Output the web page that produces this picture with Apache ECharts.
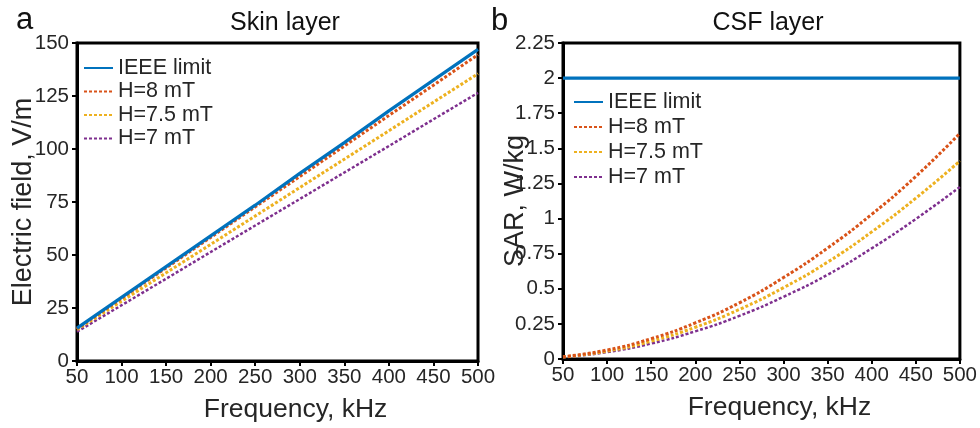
<!DOCTYPE html>
<html>
<head>
<meta charset="utf-8">
<script src="https://cdn.jsdelivr.net/npm/echarts@6/dist/echarts.min.js"></script>
<style>
  html, body { margin: 0; padding: 0; background: #fff; }
  #chart { width: 980px; height: 428px; }
</style>
</head>
<body>
<div id="chart"></div>
<script>
// Frequency sweep, kHz
var freqs = [50, 100, 150, 200, 250, 300, 350, 400, 450, 500];

// Skin layer: electric field, V/m
var skinIeee = [15.5, 30.0, 44.5, 59.0, 73.5, 88.5, 103.0, 118.0, 132.5, 147.0];
var skinH8   = [15.2, 29.6, 43.9, 58.3, 72.7, 87.0, 101.4, 115.8, 130.1, 144.5];
var skinH75  = [14.8, 28.2, 41.6, 55.0, 68.4, 81.8, 95.2, 108.6, 122.1, 135.5];
var skinH7   = [13.8, 26.3, 38.8, 51.4, 63.9, 76.4, 88.9, 101.4, 114.0, 126.5];

// CSF layer: SAR, W/kg
var csfIeee = [2, 2, 2, 2, 2, 2, 2, 2, 2, 2];
var csfH8   = [0.016, 0.064, 0.145, 0.257, 0.40, 0.58, 0.79, 1.03, 1.30, 1.607];
var csfH75  = [0.014, 0.056, 0.127, 0.226, 0.353, 0.508, 0.69, 0.905, 1.145, 1.41];
var csfH7   = [0.012, 0.049, 0.110, 0.197, 0.307, 0.443, 0.60, 0.788, 0.997, 1.225];

var seriesNames = ['IEEE limit', 'H=8 mT', 'H=7.5 mT', 'H=7 mT'];
var seriesColors = ['#0072BD', '#D95319', '#EDB120', '#7E2F8E'];

var FONT = 'Liberation Sans, Arial, Helvetica, sans-serif';
var TXT = '#262626';

function pairs(xs, ys) {
  return xs.map(function (x, i) { return [x, ys[i]]; });
}

function makeSeries(gridIdx, sets, smooth) {
  return sets.map(function (vals, i) {
    var solid = i === 0;
    return {
      name: seriesNames[i],
      type: 'line',
      xAxisIndex: gridIdx,
      yAxisIndex: gridIdx,
      data: pairs(freqs, vals),
      symbol: 'none',
      smooth: smooth && !solid,
      z: 10 - i,
      lineStyle: {
        color: seriesColors[i],
        width: solid ? 3.2 : (i === 3 ? 2.5 : 3),
        type: solid ? 'solid' : [3, 2]
      },
      itemStyle: { color: seriesColors[i] }
    };
  });
}

function xAxisFor(gridIdx) {
  return {
    type: 'value', gridIndex: gridIdx, min: 50, max: 500, interval: 50,
    name: 'Frequency, kHz', nameLocation: 'middle', nameGap: 35,
    nameMoveOverlap: false,
    // title sits a little right of the axis centre
    nameTextStyle: { fontFamily: FONT, fontSize: 26.5, color: TXT, padding: [0, 0, 0, 36] },
    axisLine: { show: true, lineStyle: { color: '#000', width: 3 } },
    axisTick: { show: true, length: 5, inside: false, lineStyle: { color: '#000', width: 2 } },
    axisLabel: { fontFamily: FONT, fontSize: 20.5, color: TXT, margin: 6 },
    splitLine: { show: false }
  };
}

function yAxisFor(gridIdx, min, max, interval, name, gap) {
  return {
    type: 'value', gridIndex: gridIdx, min: min, max: max, interval: interval,
    name: name, nameLocation: 'middle', nameGap: gap,
    nameMoveOverlap: false,
    nameTextStyle: { fontFamily: FONT, fontSize: 27, color: TXT },
    axisLine: { show: true, lineStyle: { color: '#000', width: 3 } },
    axisTick: { show: true, length: 5, inside: false, lineStyle: { color: '#000', width: 2 } },
    axisLabel: { fontFamily: FONT, fontSize: 20.5, color: TXT, margin: 8 },
    splitLine: { show: false }
  };
}

function legendFor(left, top, gap) {
  return {
    orient: 'vertical', left: left, top: top, padding: 0,
    itemWidth: 29, itemHeight: 14, itemGap: gap,
    data: seriesNames.map(function (n) { return { name: n }; }),
    itemStyle: { opacity: 0 },
    textStyle: { fontFamily: FONT, fontSize: 21.5, color: TXT, lineHeight: 22 },
    selectedMode: false
  };
}

var chart = echarts.init(document.getElementById('chart'), null, { renderer: 'canvas' });

var series = makeSeries(0, [skinIeee, skinH8, skinH75, skinH7], false)
  .concat(makeSeries(1, [csfIeee, csfH8, csfH75, csfH7], true));

chart.setOption({
  backgroundColor: '#fff',
  animation: false,
  title: [
    { text: 'Skin layer', left: 280, top: 6, textAlign: 'center',
      textStyle: { fontFamily: FONT, fontSize: 25, fontWeight: 'normal', color: '#111' } },
    { text: 'CSF layer', left: 763, top: 6, textAlign: 'center',
      textStyle: { fontFamily: FONT, fontSize: 25, fontWeight: 'normal', color: '#111' } },
    { text: 'a', left: 11, top: 0,
      textStyle: { fontFamily: FONT, fontSize: 31, fontWeight: 'normal', color: '#111' } },
    { text: 'b', left: 486, top: 1,
      textStyle: { fontFamily: FONT, fontSize: 31, fontWeight: 'normal', color: '#111' } }
  ],
  legend: [
    legendFor(83, 57, 1.5),
    legendFor(573, 91, 3)
  ],
  grid: [
    { left: 77, right: 502, top: 43, bottom: 67, show: true, borderColor: '#000', borderWidth: 3, backgroundColor: 'transparent' },
    { left: 563, right: 17, top: 43, bottom: 69, show: true, borderColor: '#000', borderWidth: 3, backgroundColor: 'transparent' }
  ],
  xAxis: [xAxisFor(0), xAxisFor(1)],
  yAxis: [
    yAxisFor(0, 0, 150, 25, 'Electric field, V/m', 40),
    yAxisFor(1, 0, 2.25, 0.25, 'SAR, W/kg', 34)
  ],
  series: series
});
</script>
</body>
</html>
